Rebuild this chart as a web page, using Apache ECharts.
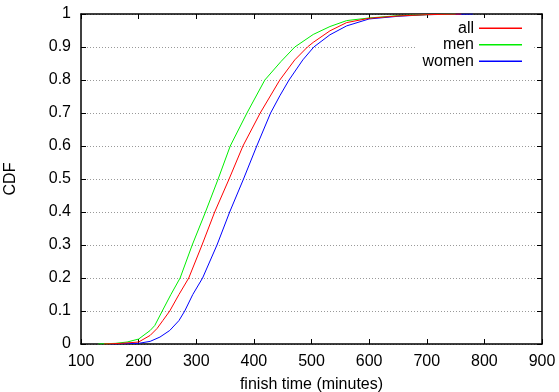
<!DOCTYPE html>
<html>
<head>
<meta charset="utf-8">
<script src="https://cdn.jsdelivr.net/npm/echarts@6/dist/echarts.min.js"></script>
<style>
html,body{margin:0;padding:0;background:#fff;}
#chart{width:559px;height:392px;}
</style>
</head>
<body>
<div id="chart"></div>
<script>
// ---- data (finish time in minutes, cumulative fraction) ----
var seriesNames = ['all', 'men', 'women'];
var seriesColors = ['#ff0000', '#00ee00', '#0000ff'];

var allTimes = [140, 170, 200, 220, 232, 242, 254, 270, 287, 310, 332, 357, 381, 411, 445, 471, 493, 503, 532, 561, 600, 650, 700, 760];
var allCdf   = [0, 0.002, 0.006, 0.026, 0.047, 0.071, 0.1, 0.15, 0.2, 0.3, 0.4, 0.5, 0.6, 0.7, 0.8, 0.861, 0.9, 0.914, 0.949, 0.974, 0.987, 0.994, 0.998, 1.0];

var menTimes = [130, 160, 180, 200, 220, 228, 241, 256, 272, 293, 316, 338, 359, 388, 419, 447, 471, 503, 532, 561, 600, 650, 700, 750];
var menCdf   = [0, 0.002, 0.006, 0.015, 0.041, 0.056, 0.1, 0.15, 0.2, 0.3, 0.4, 0.5, 0.6, 0.7, 0.8, 0.856, 0.9, 0.938, 0.962, 0.98, 0.988, 0.995, 0.998, 1.0];

var womenTimes = [150, 180, 200, 220, 237, 254, 270, 280, 294, 311, 336, 358, 382, 405, 429, 445, 461, 485, 504, 532, 561, 600, 650, 700, 780];
var womenCdf   = [0, 0.001, 0.002, 0.008, 0.021, 0.041, 0.071, 0.1, 0.15, 0.2, 0.3, 0.4, 0.5, 0.6, 0.7, 0.752, 0.8, 0.861, 0.9, 0.937, 0.964, 0.985, 0.993, 0.998, 1.0];

var xTicks = [100, 200, 300, 400, 500, 600, 700, 800, 900];
var yTicks = [0, 0.1, 0.2, 0.3, 0.4, 0.5, 0.6, 0.7, 0.8, 0.9, 1];

function pairs(t, v) { return t.map(function (x, i) { return [x, v[i]]; }); }
var seriesData = [pairs(allTimes, allCdf), pairs(menTimes, menCdf), pairs(womenTimes, womenCdf)];

var FONT = 'Liberation Sans, Arial, Helvetica, sans-serif';
var FS = 16;
var chart = echarts.init(document.getElementById('chart'), null, {renderer: 'canvas'});

var axisLine = {show: true, onZero: false, lineStyle: {color: '#000', width: 1.5}};
var tick = {show: true, inside: true, length: 5, lineStyle: {color: '#000', width: 1}};
var lbl = {color: '#000', fontSize: FS, fontFamily: FONT};

chart.setOption({
  animation: false,
  backgroundColor: '#fff',
  grid: {left: 81, right: 17, top: 14, bottom: 48, containLabel: false, outerBoundsMode: 'none'},
  legend: {
    data: seriesNames,
    orient: 'vertical',
    align: 'right',
    right: 27,
    top: 18,
    icon: 'rect',
    itemWidth: 43,
    itemHeight: 1.5,
    itemGap: 0,
    padding: [2, 10, 2, 6],
    backgroundColor: '#fff',
    textStyle: {color: '#000', fontSize: FS, fontFamily: FONT, lineHeight: 16.5}
  },
  xAxis: [{
    type: 'value', position: 'bottom', min: xTicks[0], max: xTicks[xTicks.length - 1], interval: 100,
    name: 'finish time (minutes)', nameLocation: 'middle', nameGap: 33,
    nameTextStyle: {color: '#000', fontSize: FS, fontFamily: FONT},
    axisLine: axisLine, axisTick: tick,
    axisLabel: Object.assign({margin: 10}, lbl),
    splitLine: {show: false}
  }, {
    type: 'value', position: 'top', min: xTicks[0], max: xTicks[xTicks.length - 1], interval: 100,
    axisLine: axisLine, axisTick: tick, axisLabel: {show: false}, splitLine: {show: false}
  }],
  yAxis: [{
    type: 'value', position: 'left', min: 0, max: 1, interval: 0.1,
    name: 'CDF', nameLocation: 'middle', nameGap: 62, nameRotate: 90,
    nameTextStyle: {color: '#000', fontSize: FS, fontFamily: FONT},
    axisLine: axisLine, axisTick: tick,
    axisLabel: Object.assign({margin: 10, formatter: function (v) { return String(Math.round(v * 10) / 10); }}, lbl),
    splitLine: {show: true, lineStyle: {color: '#999', width: 1, type: [1, 2]}}
  }, {
    type: 'value', position: 'right', min: 0, max: 1, interval: 0.1,
    axisLine: axisLine, axisTick: tick, axisLabel: {show: false}, splitLine: {show: false}
  }],
  series: seriesNames.map(function (n, i) {
    return {
      name: n, type: 'line', data: seriesData[i], showSymbol: false, symbol: 'none',
      lineStyle: {color: seriesColors[i], width: 1}, itemStyle: {color: seriesColors[i]},
      z: 3 - i
    };
  })
});
</script>
</body>
</html>
